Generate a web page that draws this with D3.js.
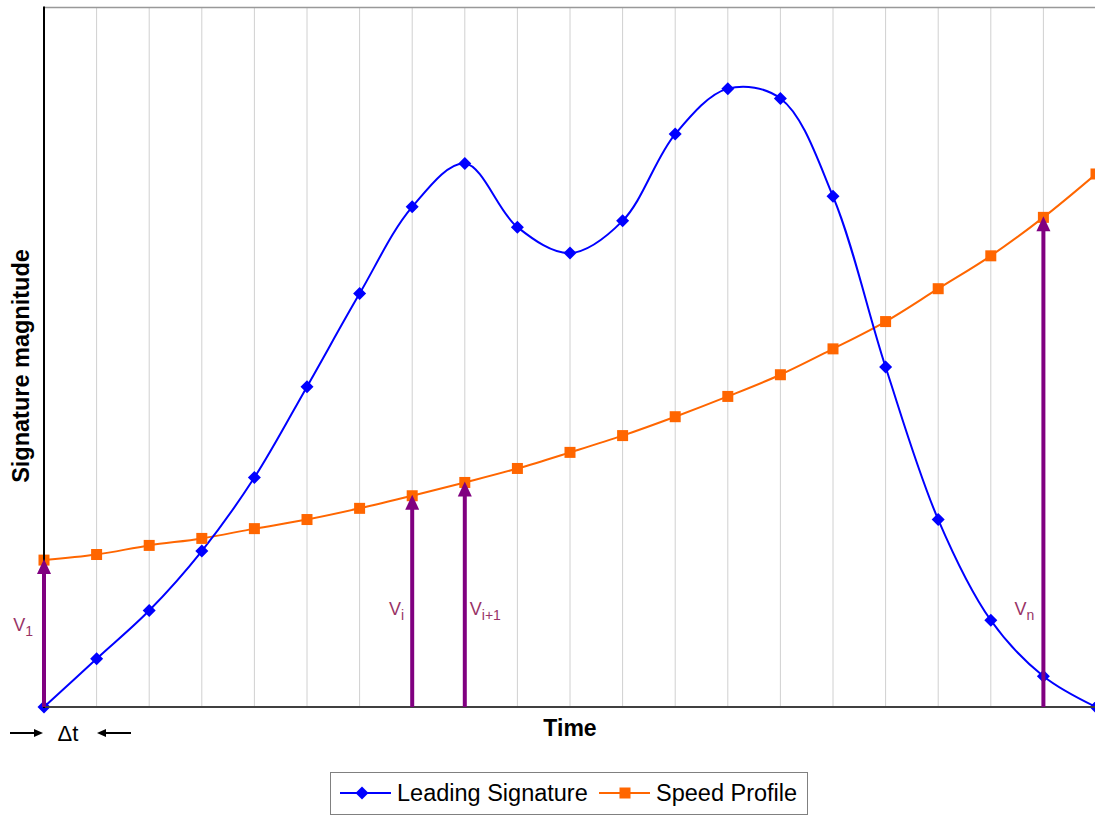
<!DOCTYPE html>
<html><head><meta charset="utf-8">
<script src="https://cdn.jsdelivr.net/npm/d3@7"></script>
<style>body{margin:0;background:#fff}svg{display:block}text{font-family:"Liberation Sans",Arial,sans-serif}</style>
</head><body>
<script>
const steps = d3.range(0, 21);
const leadingSignature = [0, 6.9, 13.8, 22.3, 32.8, 45.8, 59.1, 71.5, 77.7, 68.6, 64.9, 69.5, 81.9, 88.4, 87.0, 73.0, 48.6, 26.8, 12.4, 4.4, 0];
const speedProfile = [21.0, 21.8, 23.1, 24.1, 25.5, 26.8, 28.4, 30.2, 32.1, 34.1, 36.4, 38.8, 41.5, 44.4, 47.5, 51.2, 55.1, 59.8, 64.5, 70.0, 76.2];
const arrowSteps = [0, 7, 8, 19];
const arrowLabels = [["V","1"],["V","i"],["V","i+1"],["V","n"]];
const seriesNames = ["Leading Signature", "Speed Profile"];

const W = 1095, H = 815;
const L = 44, R = 1096, T = 7.5, B = 707;
const svg = d3.select("body").append("svg").attr("width", W).attr("height", H);
const x = d3.scaleLinear().domain([0, 20]).range([L, R]);
const y = d3.scaleLinear().domain([0, 100]).range([B, T]);

// gridlines
svg.append("g").selectAll("line").data(steps.filter(d => d > 0 && d < 20)).join("line")
  .attr("x1", d => x(d)).attr("x2", d => x(d)).attr("y1", T).attr("y2", B)
  .attr("stroke", "#d0d0d0").attr("stroke-width", 1);
// top border
svg.append("line").attr("x1", L).attr("x2", W).attr("y1", T).attr("y2", T).attr("stroke", "#999").attr("stroke-width", 1.5);

const curve = d3.curveCatmullRom.alpha(0.5);
const lineGen = d3.line().x((d, i) => x(i)).y(d => y(d)).curve(curve);

svg.append("path").datum(speedProfile).attr("d", lineGen).attr("fill", "none").attr("stroke", "#ff6600").attr("stroke-width", 2);
svg.append("path").datum(leadingSignature).attr("d", lineGen).attr("fill", "none").attr("stroke", "#0000ff").attr("stroke-width", 2);

const sq = 11, dm = 6.5;
svg.append("g").selectAll("rect").data(speedProfile).join("rect")
  .attr("x", (d, i) => x(i) - sq / 2).attr("y", d => y(d) - sq / 2).attr("width", sq).attr("height", sq).attr("fill", "#ff6600");
svg.append("g").selectAll("path").data(leadingSignature).join("path")
  .attr("d", (d, i) => `M${x(i)},${y(d) - dm}L${x(i) + dm},${y(d)}L${x(i)},${y(d) + dm}L${x(i) - dm},${y(d)}Z`).attr("fill", "#0000ff");

// axes
svg.append("line").attr("x1", L).attr("x2", W).attr("y1", B).attr("y2", B).attr("stroke", "#404040").attr("stroke-width", 2);
svg.append("line").attr("x1", L).attr("x2", L).attr("y1", T - 1).attr("y2", B + 1).attr("stroke", "#000").attr("stroke-width", 2);

// purple arrows
const purple = "#800080", labelCol = "#993366";
const ag = svg.append("g");
arrowSteps.forEach((s, k) => {
  const ax = x(s), tip = y(speedProfile[s]);
  ag.append("line").attr("x1", ax).attr("x2", ax).attr("y1", B).attr("y2", tip + 12).attr("stroke", purple).attr("stroke-width", 4);
  ag.append("path").attr("d", `M${ax},${tip - 1}L${ax + 7},${tip + 14}L${ax - 7},${tip + 14}Z`).attr("fill", purple);
  const lbl = arrowLabels[k];
  const cfg = [{dx: -11, yb: 631, a: "end"}, {dx: -8, yb: 615, a: "end"}, {dx: 5, yb: 615, a: "start"}, {dx: -9, yb: 615, a: "end"}][k];
  const t = ag.append("text").attr("x", ax + cfg.dx).attr("y", cfg.yb).attr("text-anchor", cfg.a).attr("fill", labelCol).attr("font-size", 18);
  t.append("tspan").text(lbl[0]);
  t.append("tspan").attr("font-size", 14).attr("dy", 5).text(lbl[1]);
});

// axis titles
svg.append("text").attr("x", (L + R) / 2).attr("y", 736).attr("text-anchor", "middle").attr("font-weight", "bold").attr("font-size", 23).text("Time");
svg.append("text").attr("transform", "translate(29,366) rotate(-90)").attr("text-anchor", "middle").attr("font-weight", "bold").attr("font-size", 23.5).text("Signature magnitude");

// delta t
function hArrow(x1, x2, yy) {
  const dir = Math.sign(x2 - x1);
  svg.append("line").attr("x1", x1).attr("x2", x2 - dir * 6).attr("y1", yy).attr("y2", yy).attr("stroke", "#000").attr("stroke-width", 2);
  svg.append("path").attr("d", `M${x2},${yy}L${x2 - dir * 9},${yy - 4}L${x2 - dir * 9},${yy + 4}Z`).attr("fill", "#000");
}
hArrow(10, 43, 733);
hArrow(131, 97, 733);
svg.append("text").attr("x", 68).attr("y", 741).attr("text-anchor", "middle").attr("font-size", 22).text("\u0394t");

// legend
const lg = svg.append("g");
lg.append("rect").attr("x", 330.5).attr("y", 772.5).attr("width", 477).attr("height", 42).attr("fill", "#fff").attr("stroke", "#808080").attr("stroke-width", 1);
const ly = 793;
lg.append("line").attr("x1", 340).attr("x2", 391).attr("y1", ly).attr("y2", ly).attr("stroke", "#0000ff").attr("stroke-width", 2);
lg.append("path").attr("d", `M362,${ly - dm}L${362 + dm},${ly}L362,${ly + dm}L${362 - dm},${ly}Z`).attr("fill", "#0000ff");
lg.append("text").attr("x", 397).attr("y", ly + 8).attr("font-size", 23.5).text(seriesNames[0]);
lg.append("line").attr("x1", 599).attr("x2", 650).attr("y1", ly).attr("y2", ly).attr("stroke", "#ff6600").attr("stroke-width", 2);
lg.append("rect").attr("x", 625 - sq / 2).attr("y", ly - sq / 2).attr("width", sq).attr("height", sq).attr("fill", "#ff6600");
lg.append("text").attr("x", 656).attr("y", ly + 8).attr("font-size", 23.5).text(seriesNames[1]);
</script>
</body></html>
